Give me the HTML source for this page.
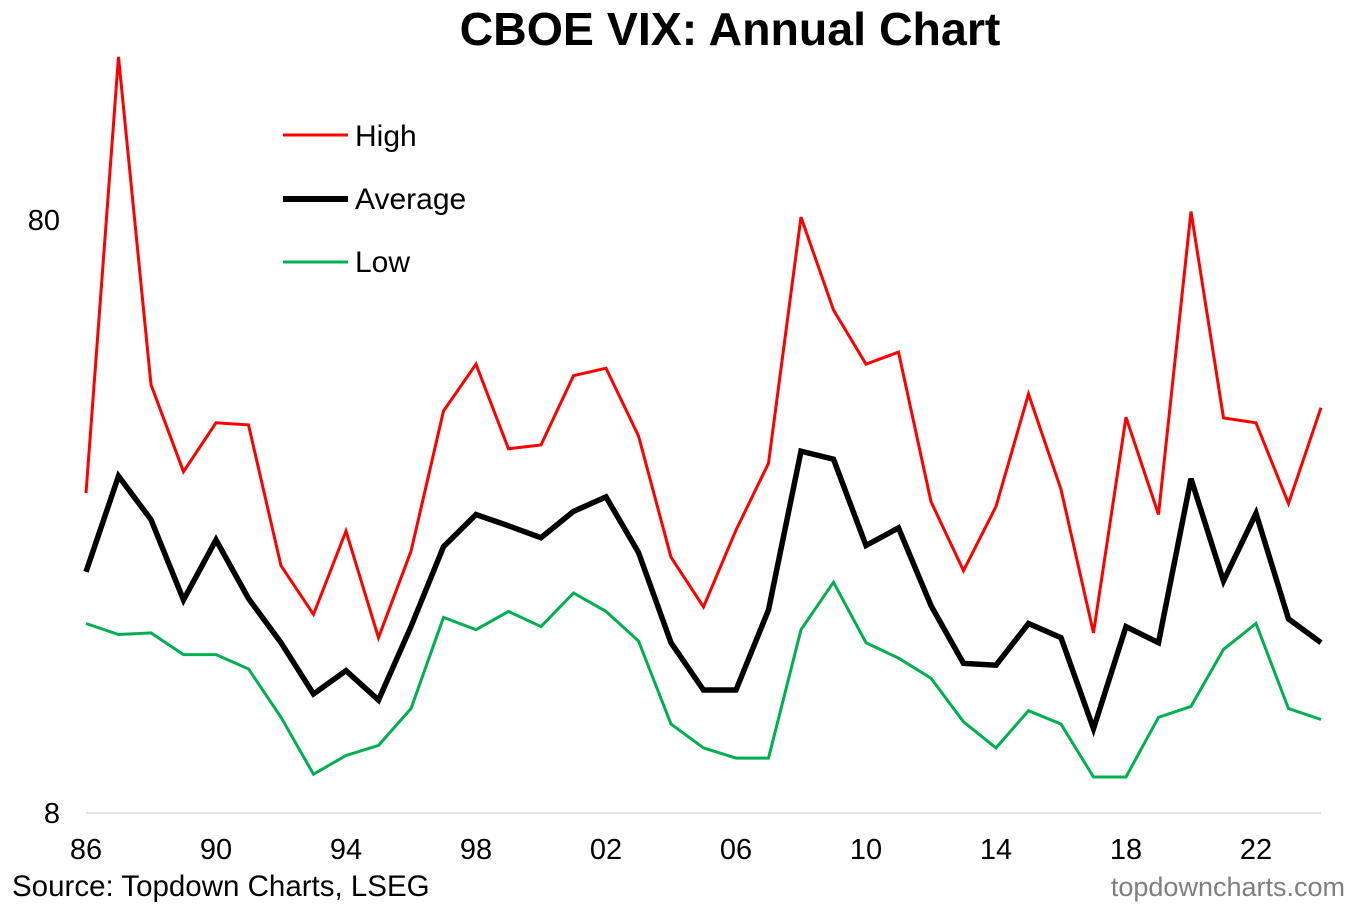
<!DOCTYPE html>
<html><head><meta charset="utf-8"><style>
html,body{margin:0;padding:0;background:#fff;width:1360px;height:905px;overflow:hidden}
svg{display:block;font-family:"Liberation Sans",Arial,sans-serif}
</style></head><body>
<svg id="chart" width="1360" height="905" viewBox="0 0 1360 905">
<text x="730" y="45" text-anchor="middle" font-size="46.5" font-weight="bold">CBOE VIX: Annual Chart</text>
<g id="axes"></g>
<g id="series"></g>
<g>
<line x1="283" y1="135" x2="348" y2="135" stroke="#ff0000" stroke-width="3"/>
<text x="355" y="146" font-size="30">High</text>
<line x1="283" y1="199" x2="348" y2="199" stroke="#000" stroke-width="6"/>
<text x="355" y="209" font-size="30">Average</text>
<line x1="283" y1="262" x2="348" y2="262" stroke="#00b050" stroke-width="3"/>
<text x="355" y="272" font-size="30">Low</text>
</g>
<text x="12" y="896" font-size="29.5">Source: Topdown Charts, LSEG</text>
<text x="1345" y="896" text-anchor="end" font-size="27" fill="#7f7f7f">topdowncharts.com</text>
</svg>
<script>
const years=[1986,1987,1988,1989,1990,1991,1992,1993,1994,1995,1996,1997,1998,1999,2000,2001,2002,2003,2004,2005,2006,2007,2008,2009,2010,2011,2012,2013,2014,2015,2016,2017,2018,2019,2020,2021,2022,2023,2024];
const highVals=[27.7,150.7,42.2,30.1,36.4,36.1,20.9,17.3,23.9,15.8,22.1,38.1,45.7,32.9,33.4,43.7,45.0,34.6,21.6,17.8,24.0,31.1,80.9,56.4,45.7,47.9,26.8,20.5,26.3,40.7,28.1,16.1,37.2,25.5,82.7,37.1,36.4,26.6,38.6];
const avgVals=[20.4,29.6,25.0,18.3,23.1,18.4,15.5,12.7,13.9,12.4,16.5,22.5,25.5,24.4,23.3,25.8,27.3,22.0,15.5,12.9,12.9,17.6,32.6,31.6,22.6,24.2,17.9,14.3,14.2,16.7,15.8,11.1,16.5,15.5,29.3,19.7,25.6,17.0,15.5];
const lowVals=[16.7,16.0,16.1,14.8,14.8,14.0,11.6,9.3,10.0,10.4,12.0,17.1,16.3,17.5,16.5,18.8,17.5,15.6,11.3,10.3,9.9,9.9,16.3,19.6,15.5,14.6,13.5,11.4,10.3,11.9,11.3,9.2,9.2,11.6,12.1,15.1,16.7,12.0,11.5];
const yTicks=[8,80];
const xTickYears=[1986,1990,1994,1998,2002,2006,2010,2014,2018,2022];
const NS='http://www.w3.org/2000/svg';
const x=y=>86+(y-1986)*(1321-86)/(2024-1986);
const yv=v=>813-Math.log10(v/8)*593;
const axes=document.getElementById('axes'),ser=document.getElementById('series');
function mk(tag,attrs,parent){const e=document.createElementNS(NS,tag);for(const k in attrs)e.setAttribute(k,attrs[k]);parent.appendChild(e);return e;}
const xa=mk('line',{x1:86,y1:813,x2:1321,y2:813,stroke:'#d9d9d9','stroke-width':1.5},axes);


yTicks.forEach(t=>{const e=mk('text',{x:60,y:yv(t)+10,'text-anchor':'end','font-size':29},axes);e.textContent=t;

});
xTickYears.forEach(t=>{const e=mk('text',{x:x(t),y:859,'text-anchor':'middle','font-size':29},axes);e.textContent=String(t%100).padStart(2,'0');

});
function line(vals,color,w,name){const d=vals.map((v,i)=>(i?'L':'M')+x(years[i]).toFixed(1)+','+yv(v).toFixed(1)).join('');
const p=mk('path',{d:d,fill:'none',stroke:color,'stroke-width':w,'stroke-linejoin':'miter'},ser);

}
line(lowVals,'#00b050',3,'low-line');
line(highVals,'#ff0000',3,'high-line');
line(avgVals,'#000',5.5,'average-line');
</script>
</body></html>
